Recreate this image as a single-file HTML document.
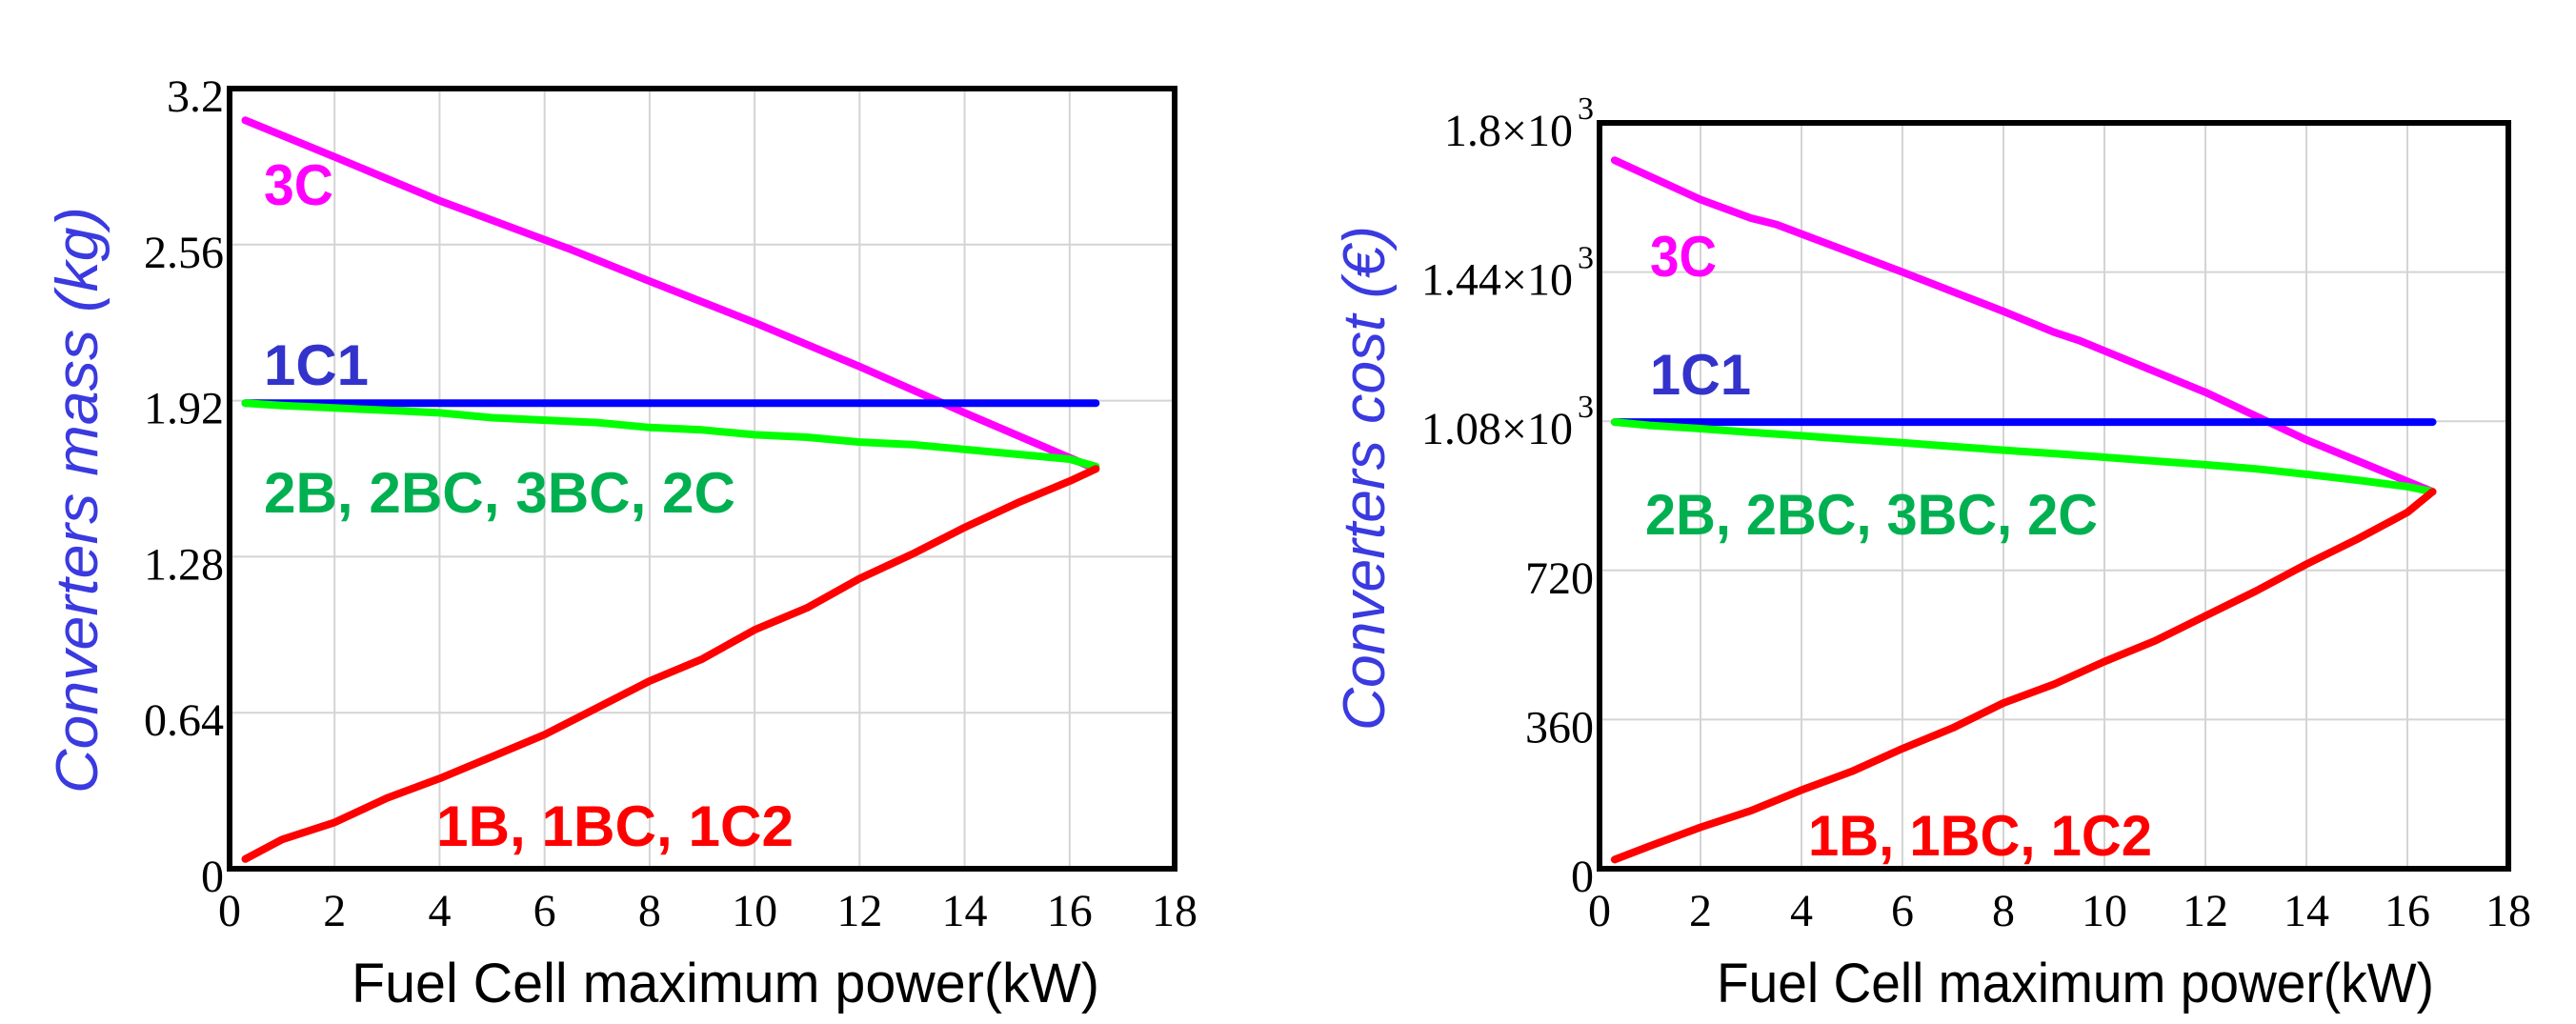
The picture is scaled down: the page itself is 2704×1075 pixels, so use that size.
<!DOCTYPE html>
<html><head><meta charset="utf-8"><style>
html,body{margin:0;padding:0;background:#fff;width:2704px;height:1075px;overflow:hidden}
svg{display:block}
</style></head><body>
<svg id="fig" width="2704" height="1075" xmlns="http://www.w3.org/2000/svg"></svg>
<script>
const xTicks=[0,2,4,6,8,10,12,14,16,18];
const massTicks=[0,0.64,1.28,1.92,2.56,3.2];
const massTickLabels=["0","0.64","1.28","1.92","2.56","3.2"];
const costTicks=[0,360,720,1080,1440,1800];
const costTickLabels=["0","360","720","1.08×10","1.44×10","1.8×10"];
const costTickExp=["","","","3","3","3"];

const mass3C_x=[0.3,2,4,6,6.5,8,10,12,14,16.5];
const mass3C_y=[3.07,2.92,2.74,2.58,2.54,2.41,2.24,2.06,1.87,1.64];
const mass1C1_x=[0.3,16.5];
const mass1C1_y=[1.91,1.91];
const mass2B_x=[0.3,1,2,3,4,5,6,7,8,9,10,11,12,13,14,15,16,16.5];
const mass2B_y=[1.91,1.90,1.89,1.88,1.87,1.85,1.84,1.83,1.81,1.80,1.78,1.77,1.75,1.74,1.72,1.70,1.68,1.65];
const mass1B_x=[0.3,1,2,3,4,5,6,7,8,9,10,11,12,13,14,15,16,16.5];
const mass1B_y=[0.04,0.12,0.19,0.29,0.37,0.46,0.55,0.66,0.77,0.86,0.98,1.07,1.19,1.29,1.40,1.50,1.59,1.64];

const cost3C_x=[0.3,2,3,3.5,6,8,9,9.5,12,14,15,16.5];
const cost3C_y=[1710,1615,1570,1555,1440,1345,1295,1275,1150,1035,985,910];
const cost1C1_x=[0.3,16.5];
const cost1C1_y=[1078,1078];
const cost2B_x=[0.3,1,2,3,4,5,6,7,8,9,10,11,12,13,14,15,16,16.5];
const cost2B_y=[1078,1070,1062,1053,1045,1036,1028,1019,1010,1002,993,984,975,965,952,938,922,910];
const cost1B_x=[0.3,1,2,3,4,5,6,7,8,9,10,11,12,13,14,15,16,16.5];
const cost1B_y=[22,55,100,140,190,235,290,340,400,445,500,550,610,670,735,795,860,910];

const NS="http://www.w3.org/2000/svg";
const svg=document.getElementById('fig');
function mk(tag,attrs,parent){const e=document.createElementNS(NS,tag);for(const k in attrs)e.setAttribute(k,attrs[k]);(parent||svg).appendChild(e);return e;}

function chart(cfg){
  const g=mk('g',{});
  
  
  const X=v=>cfg.x0+(v-0)/18*(cfg.x1-cfg.x0);
  const Y=v=>cfg.y1-(v/cfg.ymax)*(cfg.y1-cfg.y0);
  xTicks.forEach(t=>{
    if(t>0&&t<18){const l=mk('line',{x1:X(t),x2:X(t),y1:cfg.y0,y2:cfg.y1,stroke:'#d4d4d4','stroke-width':2},g);
    }
    const tx=mk('text',{x:X(t),y:cfg.y1+60,'text-anchor':'middle','font-family':'Liberation Serif, serif','font-size':48,fill:'#000'},g);
    tx.textContent=String(t);
    
  });
  cfg.yt.forEach((t,i)=>{
    if(t>0&&t<cfg.ymax){const l=mk('line',{x1:cfg.x0,x2:cfg.x1,y1:Y(t),y2:Y(t),stroke:'#d4d4d4','stroke-width':2},g);
    }
    const exp=cfg.yexp?cfg.yexp[i]:'';
    const tx=mk('text',{x:cfg.x0-(exp?28:6),y:Y(t)+24,'text-anchor':'end','font-family':'Liberation Serif, serif','font-size':48,fill:'#000'},g);
    tx.textContent=cfg.yl[i];
    
    if(exp){const s=mk('text',{x:cfg.x0-6,y:Y(t)-4,'text-anchor':'end','font-family':'Liberation Serif, serif','font-size':34,fill:'#000'},g);
      s.textContent=exp;}
  });
  cfg.series.forEach(s=>{
    const d=s.x.map((v,i)=>(i?'L':'M')+X(v).toFixed(1)+' '+Y(s.y[i]).toFixed(1)).join(' ');
    const p=mk('path',{d:d,fill:'none',stroke:s.color,'stroke-width':8,'stroke-linecap':'round','stroke-linejoin':'round'},g);
    
  });
  const b=mk('rect',{x:cfg.x0,y:cfg.y0,width:cfg.x1-cfg.x0,height:cfg.y1-cfg.y0,fill:'none',stroke:'#000','stroke-width':6},g);
  
  cfg.labels.forEach(l=>{
    const t=mk('text',{x:l.x,y:l.y,'font-family':'Liberation Sans, sans-serif','font-weight':'bold','font-size':60,fill:l.color,textLength:l.w,lengthAdjust:'spacingAndGlyphs'},g);
    t.textContent=l.text;
  });
  const yt=mk('text',{x:0,y:0,transform:`translate(${cfg.ytx},${cfg.ytc}) rotate(-90)`,'text-anchor':'middle','font-family':'Liberation Sans, sans-serif','font-style':'italic','font-size':62,fill:'#3a3ae0',textLength:cfg.ytw,lengthAdjust:'spacingAndGlyphs'},g);
  yt.textContent=cfg.ytitle;
  const xt=mk('text',{x:cfg.xtx,y:1052,'font-family':'Liberation Sans, sans-serif','font-size':58,fill:'#000',textLength:cfg.xtw,lengthAdjust:'spacingAndGlyphs'},g);
  xt.textContent='Fuel Cell maximum power(kW)';
}

chart({name:'mass-chart',x0:241,x1:1233,y0:93,y1:912,ymax:3.2,yt:massTicks,yl:massTickLabels,
  series:[{name:'line-3c',x:mass3C_x,y:mass3C_y,color:'#ff00ff'},
          {name:'line-1c1',x:mass1C1_x,y:mass1C1_y,color:'#0000ff'},
          {name:'line-2b-2bc-3bc-2c',x:mass2B_x,y:mass2B_y,color:'#00ff00'},
          {name:'line-1b-1bc-1c2',x:mass1B_x,y:mass1B_y,color:'#ff0000'}],
  labels:[{text:'3C',x:277,y:215,w:73,color:'#ff00ff',name:'label-3c'},
          {text:'1C1',x:277,y:404,w:110,color:'#3333cc',name:'label-1c1'},
          {text:'2B, 2BC, 3BC, 2C',x:277,y:538,w:495,color:'#00b050',name:'label-2b-2bc-3bc-2c'},
          {text:'1B, 1BC, 1C2',x:458,y:888,w:375,color:'#ff0000',name:'label-1b-1bc-1c2'}],
  ytitle:'Converters mass (kg)',ytx:102,ytc:525,ytw:616,xtx:369,xtw:785});

chart({name:'cost-chart',x0:1679,x1:2633,y0:129,y1:912,ymax:1800,yt:costTicks,yl:costTickLabels,yexp:costTickExp,
  series:[{name:'line-3c',x:cost3C_x,y:cost3C_y,color:'#ff00ff'},
          {name:'line-1c1',x:cost1C1_x,y:cost1C1_y,color:'#0000ff'},
          {name:'line-2b-2bc-3bc-2c',x:cost2B_x,y:cost2B_y,color:'#00ff00'},
          {name:'line-1b-1bc-1c2',x:cost1B_x,y:cost1B_y,color:'#ff0000'}],
  labels:[{text:'3C',x:1732,y:290,w:70,color:'#ff00ff',name:'label-3c'},
          {text:'1C1',x:1732,y:414,w:106,color:'#3333cc',name:'label-1c1'},
          {text:'2B, 2BC, 3BC, 2C',x:1727,y:561,w:475,color:'#00b050',name:'label-2b-2bc-3bc-2c'},
          {text:'1B, 1BC, 1C2',x:1898,y:898,w:361,color:'#ff0000',name:'label-1b-1bc-1c2'}],
  ytitle:'Converters cost (€)',ytx:1453,ytc:502,ytw:530,xtx:1802,xtw:753});
</script>
</body></html>
